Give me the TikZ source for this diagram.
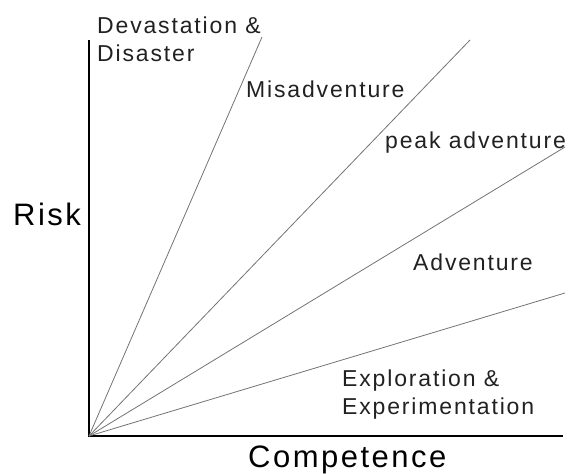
\documentclass[tikz,border=0pt]{standalone}
\usepackage{fontspec}
\setmainfont{Liberation Sans}
\newfontfamily\lblfont[LetterSpace=8]{Liberation Sans}
\definecolor{raygray}{gray}{0.45}
\definecolor{txtgray}{gray}{0.13}
\begin{document}
\begin{tikzpicture}[x=1pt, y=-1pt,
  zone/.style={anchor=base west, inner sep=0pt, align=left, text=txtgray,
    font=\lblfont\fontsize{23}{27.5}\selectfont},
  axislabel/.style={anchor=base west, inner sep=0pt, text=black,
    font=\lblfont\fontsize{31}{36}\selectfont}]
   \useasboundingbox (0,0) rectangle (574,474);
   % axes
   \coordinate (origin) at (89,436);
   \coordinate (risktop) at (89,40);
   \coordinate (compend) at (563,436);
   \draw[line width=2.5pt] (risktop) -- (origin) -- (compend);
   % rays
   \coordinate (ray1) at (262,37);
   \coordinate (ray2) at (470,40);
   \coordinate (ray3) at (565,147);
   \coordinate (ray4) at (565,293);
   \draw[raygray, line width=0.8pt] (origin) -- (ray1);
   \draw[raygray, line width=0.8pt] (origin) -- (ray2);
   \draw[raygray, line width=0.8pt] (origin) -- (ray3);
   \draw[raygray, line width=0.8pt] (origin) -- (ray4);
   % zones (base = last line)
   \node[zone] (devastation) at (97,61) {Devastation \&\\Disaster};
   \node[zone] (misadventure) at (246,97) {Misadventure};
   \node[zone] (peak) at (385,148) {peak adventure};
   \node[zone] (adventure) at (413,270) {Adventure};
   \node[zone] (exploration) at (342,414) {Exploration \&\\Experimentation};
   % axis labels
   \node[axislabel] (risk) at (13,225) {Risk};
   \node[axislabel] (competence) at (248,467) {Competence};
\end{tikzpicture}
\end{document}
